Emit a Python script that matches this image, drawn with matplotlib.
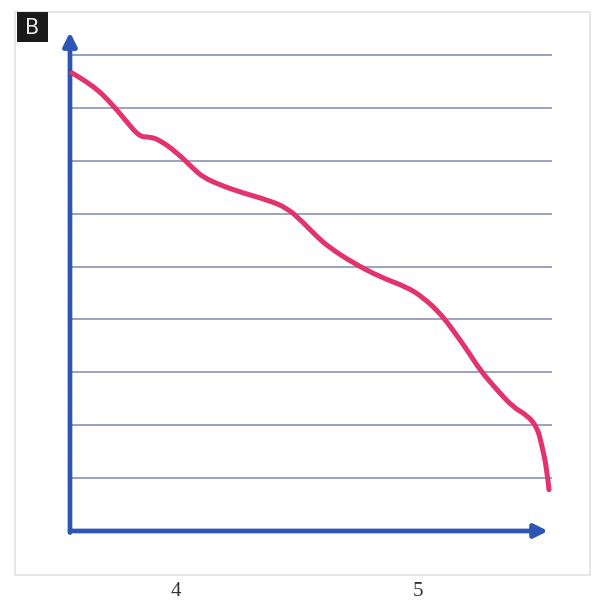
import matplotlib
matplotlib.use("Agg")
import matplotlib.pyplot as plt
from matplotlib.patches import Rectangle, PathPatch
from matplotlib.path import Path

# Curve (x: 0..10 along horizontal axis, y: gridline units)
curve_x = [0.04, 0.48, 0.90, 1.19, 1.46, 1.67, 1.88, 2.24, 2.57, 2.78, 3.14, 3.62,
           4.12, 4.54, 4.87, 5.17, 5.44, 5.92, 6.49, 7.05, 7.38, 7.74, 8.01, 8.31,
           8.58, 8.93, 9.27, 9.56, 9.77, 9.87, 9.98, 10.02]
curve_y = [8.66, 8.43, 8.05, 7.73, 7.45, 7.45, 7.39, 7.15, 6.86, 6.69, 6.54, 6.39,
           6.26, 6.11, 5.84, 5.56, 5.35, 5.07, 4.80, 4.61, 4.42, 4.12, 3.80, 3.42,
           3.04, 2.67, 2.34, 2.19, 1.97, 1.63, 1.15, 0.78]
grid_levels = [1, 2, 3, 4, 5, 6, 7, 8, 9]
panel_label = "B"
bottom_labels = ["4", "5"]

fig = plt.figure(figsize=(5.97, 6.04), dpi=100)
ax = fig.add_axes([0, 0, 1, 1])
ax.set_xlim(-1.464, 11.025)
ax.set_ylim(-1.380, 10.038)
ax.axis("off")

# light frame
frame = Rectangle((15 / 597, 1 - 575 / 604), (590 - 15) / 597, (575 - 12) / 604,
                  transform=fig.transFigure, fill=False, edgecolor="#e2e2e2", lw=1.2)
fig.patches.append(frame)

# gridlines
for g in grid_levels:
    ax.plot([0, 10.08], [g, g], color="#8088ae", lw=1.1, solid_capstyle="butt", zorder=1)

# axes with arrows
blue = "#2d55b4"
ax.annotate("", xy=(10.0, 0.0), xytext=(0, 0.0),
            arrowprops=dict(arrowstyle="-|>,head_length=0.8,head_width=0.4",
                        color=blue, lw=3.4, shrinkA=0, shrinkB=0), zorder=3)
ax.annotate("", xy=(0, 9.43), xytext=(0, -0.03),
            arrowprops=dict(arrowstyle="-|>,head_length=0.8,head_width=0.4",
                        color=blue, lw=3.4, shrinkA=0, shrinkB=0), zorder=3)

# curve: smooth quadratic path through the read points (midpoint scheme)
pts = list(zip(curve_x, curve_y))
verts = [pts[0]]
codes = [Path.MOVETO]
for i in range(1, len(pts) - 1):
    mid = ((pts[i][0] + pts[i + 1][0]) / 2, (pts[i][1] + pts[i + 1][1]) / 2)
    if i == len(pts) - 2:
        mid = pts[-1]
    verts += [pts[i], mid]
    codes += [Path.CURVE3, Path.CURVE3]
curve = PathPatch(Path(verts, codes), facecolor="none", edgecolor="#e2336d", lw=3.6,
                  capstyle="round", joinstyle="round", zorder=4)
ax.add_patch(curve)

# panel label box
fig.patches.append(Rectangle((17 / 597, 1 - 42 / 604), 31 / 597, 30 / 604,
                             transform=fig.transFigure, facecolor="#1a1a1a",
                             edgecolor="none"))
fig.text(32.5 / 597, 1 - 27.5 / 604, panel_label, color="#e8e8e8", fontsize=15,
         ha="center", va="center", family="DejaVu Sans")

# page numbers near bottom
fig.text(176 / 597, 1 - 601 / 604, bottom_labels[0], fontsize=15, family="Liberation Serif",
         ha="center", va="bottom", color="#333333")
fig.text(418 / 597, 1 - 601 / 604, bottom_labels[1], fontsize=15, family="Liberation Serif",
         ha="center", va="bottom", color="#333333")

fig.savefig("out.png", dpi=100)
